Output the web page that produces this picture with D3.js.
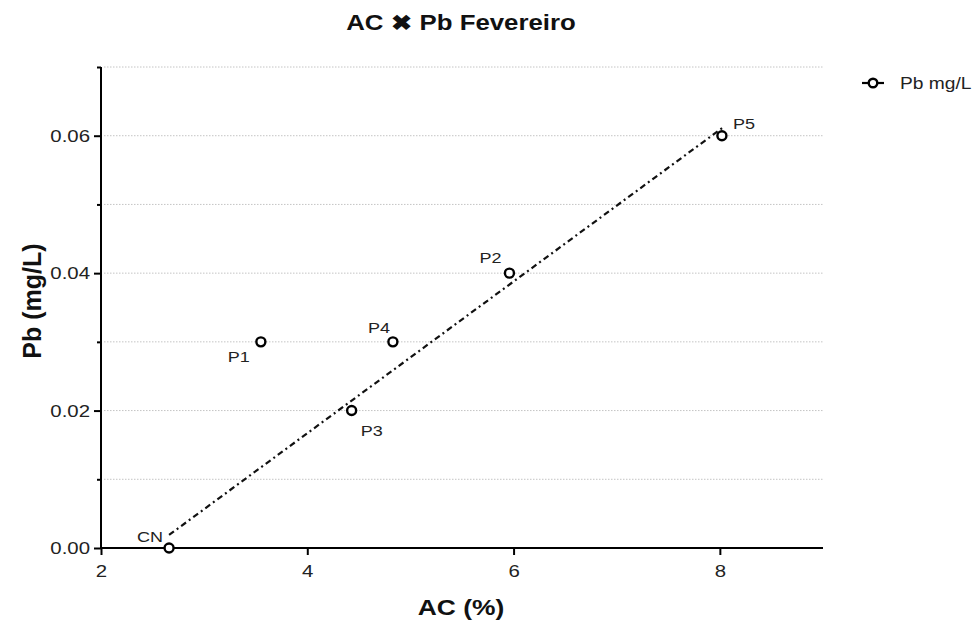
<!DOCTYPE html>
<html><head><meta charset="utf-8">
<script src="https://cdn.jsdelivr.net/npm/d3@7"></script>
<style>body{margin:0;background:#fff;font-family:"Liberation Sans",Arial,sans-serif}</style>
</head><body><svg id="c" width="974" height="621"></svg>
<script>
const labels = ["CN","P1","P3","P4","P2","P5"];
const acValues = [2.66, 3.55, 4.43, 4.83, 5.96, 8.02];
const pbValues = [0.00, 0.03, 0.02, 0.03, 0.04, 0.06];
const fitX = [2.66, 8.03];
const fitY = [0.0019, 0.0612];
const xTicks = [2, 4, 6, 8];
const yTicks = [0, 0.02, 0.04, 0.06];
const yMinorTicks = [0.01, 0.03, 0.05, 0.07];
const gridValues = [0.01, 0.02, 0.03, 0.04, 0.05, 0.06, 0.07];
const labelOffsets = {CN:[-6,-6,"end"], P1:[-11,20,"end"], P3:[9,25,"start"], P4:[-3,-9,"end"], P2:[-8,-10,"end"], P5:[11,-7,"start"]};

const SX = 1.2; // horizontal stretch of the reference glyphs
const svg = d3.select("#c");
const L=101, R=823, T=67, B=548;
const x = d3.scaleLinear().domain([2,9]).range([L,R]);
const y = d3.scaleLinear().domain([0,0.07]).range([B,T]);

function stext(px, py, txt, size, weight, anchor, fill){
  return svg.append("text").attr("transform",`translate(${px},${py}) scale(${SX},1)`)
    .attr("text-anchor",anchor||"start").style("font-size",size+"px")
    .style("font-weight",weight||"normal").attr("fill",fill||"#222").text(txt);
}

// grid
svg.append("g").selectAll("line").data(gridValues).join("line")
  .attr("x1",L+3).attr("x2",R).attr("y1",d=>y(d)).attr("y2",d=>y(d))
  .attr("stroke","#c4c4c4").attr("stroke-width",1).attr("stroke-dasharray","1.5,1.5");

// axes
const xa = svg.append("g").attr("transform",`translate(0,${B})`)
  .call(d3.axisBottom(x).tickValues(xTicks).tickFormat(d3.format("d")).tickSize(7).tickPadding(10));
const ya = svg.append("g").attr("transform",`translate(${L},0)`)
  .call(d3.axisLeft(y).tickValues(yTicks).tickFormat(d3.format(".2f")).tickSize(7).tickPadding(4));
svg.append("g").attr("transform",`translate(${L},0)`)
  .call(d3.axisLeft(y).tickValues(yMinorTicks).tickFormat("").tickSize(4))
  .select(".domain").remove();
[xa,ya].forEach(a=>{
  a.select(".domain").attr("stroke","#000").attr("stroke-width",2);
  a.selectAll(".tick text").attr("fill","#222").style("font-size","17px")
    .style("font-family","Liberation Sans, Arial, sans-serif");
});
xa.selectAll(".tick text").attr("transform",`scale(${SX},1)`);
ya.selectAll(".tick text").attr("x",-11/SX).attr("transform",`scale(${SX},1)`);
svg.selectAll(".tick line").attr("stroke","#000").attr("stroke-width",2);
xa.select(".domain").attr("d",`M${L},0H${R}`);
ya.select(".domain").attr("d",`M0,${T}V${B}`);

// fit line
svg.append("path").datum(d3.zip(fitX,fitY))
  .attr("d",d3.line().x(d=>x(d[0])).y(d=>y(d[1])))
  .attr("fill","none").attr("stroke","#111").attr("stroke-width",2.2)
  .attr("stroke-dasharray","6,3.5,2,3.5");

// points
const pts = labels.map((l,i)=>({l, ac:acValues[i], pb:pbValues[i]}));
svg.append("g").selectAll("circle").data(pts).join("circle")
  .attr("cx",d=>x(d.ac)).attr("cy",d=>y(d.pb)).attr("r",4.5)
  .attr("fill","#fff").attr("stroke","#000").attr("stroke-width",2.4);
pts.forEach(d=>{
  const o = labelOffsets[d.l];
  stext(x(d.ac)+o[0], y(d.pb)+o[1], d.l, 15, "normal", o[2]);
});

// title
stext(461, 30, "AC \u2716 Pb Fevereiro", 21.5, "bold", "middle", "#111");
// axis titles
stext(461, 615, "AC (%)", 22, "bold", "middle", "#111");
svg.append("text").attr("transform","translate(41,301) rotate(-90)").attr("text-anchor","middle")
  .style("font-size","25px").style("font-weight","bold").attr("fill","#111").text("Pb (mg/L)");

// legend
const lg = svg.append("g").attr("transform","translate(862,83)");
lg.append("line").attr("x1",0).attr("x2",22).attr("y1",0).attr("y2",0).attr("stroke","#000").attr("stroke-width",2.2);
lg.append("circle").attr("cx",11).attr("cy",0).attr("r",4.3).attr("fill","#fff").attr("stroke","#000").attr("stroke-width",2.4);
stext(900, 89, "Pb mg/L", 16, "normal", "start");
</script></body></html>
